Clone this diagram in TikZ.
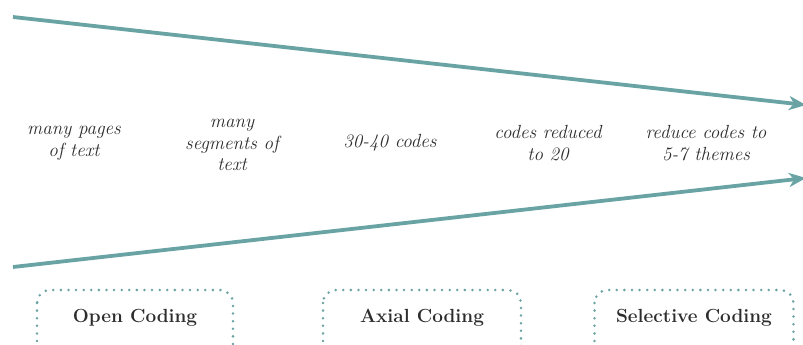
\documentclass[tikz,border=0pt]{standalone}
\usetikzlibrary{arrows.meta}
\definecolor{tealline}{RGB}{106,163,163}
\definecolor{txt}{RGB}{45,45,45}
\begin{document}
\begin{tikzpicture}[x=1pt,y=-1pt,
  flow/.style={draw=tealline,line width=3.8pt,-{Stealth[length=17pt,width=14pt,inset=5pt]}},
  lab/.style={text=txt,font=\fontsize{19}{21.5}\selectfont\itshape,align=center},
  stage/.style={text=txt,font=\fontsize{19}{22}\selectfont\bfseries},
  boxline/.style={draw=tealline,line width=2.8pt,line cap=round,dash pattern=on 0pt off 7.6pt,rounded corners=13pt}]
\clip (0,0) rectangle (803,345);
\coordinate (t1) at (13,17);
\coordinate (t2) at (806,105);
\coordinate (b1) at (13,267);
\coordinate (b2) at (806,178);
\draw[flow] (t1) -- (t2);
\draw[flow] (b1) -- (b2);
\node[lab] (l1) at (74,143) {many pages\\of text};
\node[lab] (l2) at (232,145) {many\\segments of\\text};
\node[lab] (l3) at (390,143) {30-40 codes};
\node[lab] (l4) at (548,143) {codes reduced\\to 20};
\node[lab] (l5) at (706,143) {reduce codes to\\5-7 themes};
\node[stage] (s1) at (135,318) {Open Coding};
\node[stage] (s2) at (422,318) {Axial Coding};
\node[stage] (s3) at (694,318) {Selective Coding};
\foreach \s/\w in {s1/98,s2/99,s3/99.5}
  \draw[boxline] ([shift={(-\w,-28)}]\s.center) rectangle ([shift={(\w,50)}]\s.center);
\end{tikzpicture}
\end{document}
